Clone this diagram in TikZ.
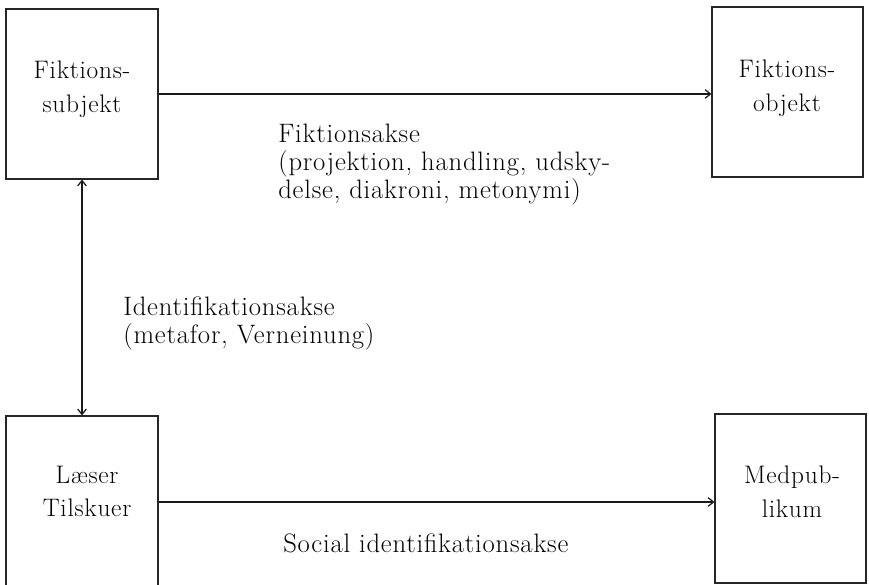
\documentclass[tikz,border=0pt]{standalone}
\usepackage{fontspec}
\setmainfont{Latin Modern Roman}
\newfontfamily\spacedfont{Latin Modern Roman}[LetterSpace=3]
\usetikzlibrary{arrows.meta}
\begin{document}
\begin{tikzpicture}[x=0.75pt,y=-0.75pt,
  box/.style={draw=black!85, line width=0.9pt, inner sep=0pt},
  boxtext/.style={anchor=north, align=center, inner sep=0pt,
     font=\spacedfont\fontsize{19}{25}\selectfont},
  lbl/.style={anchor=north west, align=left, inner sep=0pt,
     font=\spacedfont\fontsize{20}{21}\selectfont},
  conn/.style={line width=0.9pt, draw=black!90},
  tip/.style={-{Straight Barb[length=4pt,width=6.5pt]}},
  tips/.style={{Straight Barb[length=4pt,width=6.5pt]}-{Straight Barb[length=4pt,width=6.5pt]}}
]
\useasboundingbox (0,0) rectangle (869,585);

% boxes
\node[box, minimum width=114pt, minimum height=127.5pt] (b1) at (82,94) {};
\node[box, minimum width=113.25pt, minimum height=127.5pt] (b2) at (787.5,92) {};
\node[box, minimum width=114pt, minimum height=129pt] (b3) at (82,502) {};
\node[box, minimum width=113.25pt, minimum height=126.75pt] (b4) at (790.5,498.5) {};

% box texts
\node[boxtext] (t1) at (82,61) {Fiktions-\\subjekt};
\node[boxtext] (t2) at (787,60) {Fiktions-\\objekt};
\node[boxtext] (t3) at (87,466) {L\ae ser\\Tilskuer};
\node[boxtext] (t4) at (792,466) {Medpub-\\likum};

% connectors
\draw[conn, tip] (b1.east) -- (b1.east -| b2.west);
\draw[conn, tip] (b3.east) -- (b3.east -| b4.west);
\draw[conn, tips] (b1.south) -- (b3.north);

% labels
\node[lbl] (l1) at (278,124) {Fiktionsakse\\(projektion, handling, udsky-\\delse, diakroni, metonymi)};
\node[lbl] (l2) at (123,297) {Identifikationsakse\\(metafor, Verneinung)};
\node[lbl] (l3) at (283,534) {Social identifikationsakse};
\end{tikzpicture}
\end{document}
